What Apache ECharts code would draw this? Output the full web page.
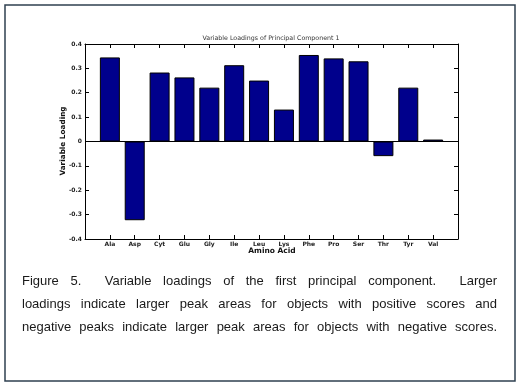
<!DOCTYPE html>
<html>
<head>
<meta charset="utf-8">
<script src="https://cdn.jsdelivr.net/npm/echarts@6/dist/echarts.min.js"></script>
<style>
html,body{margin:0;padding:0;background:#fff;}
#chart{width:520px;height:391px;}
</style>
</head>
<body>
<div id="chart"></div>
<script>
const categories = ['Ala','Asp','Cyt','Glu','Gly','Ile','Leu','Lys','Phe','Pro','Ser','Thr','Tyr','Val'];
const loadings = [0.345,-0.323,0.283,0.263,0.221,0.313,0.250,0.131,0.355,0.341,0.329,-0.060,0.221,0.008];
const yTicks = [-0.4,-0.3,-0.2,-0.1,0,0.1,0.2,0.3,0.4];
const chartTitle = 'Variable Loadings of Principal Component 1';
const xName = 'Amino Acid';
const yName = 'Variable Loading';
const captionLines = [
  'Figure 5.  Variable loadings of the first principal component.  Larger',
  'loadings indicate larger peak areas for objects with positive scores and',
  'negative peaks indicate larger peak areas for objects with negative scores.'
];

const chart = echarts.init(document.getElementById('chart'), null, {renderer:'canvas'});

const capFont = '13px "Liberation Sans", Arial, sans-serif';
const ctx = document.createElement('canvas').getContext('2d');
ctx.font = capFont;
const capLeft = 22, capRight = 497;
const capY = [281, 304, 327];
const captionGraphics = [];
captionLines.forEach((line, li) => {
  const words = line.split(' ');
  const widths = words.map(w => ctx.measureText(w).width);
  const total = widths.reduce((a,b)=>a+b,0);
  const gap = (capRight - capLeft - total) / (words.length - 1);
  let x = capLeft;
  words.forEach((w, i) => {
    if (w.length) {
      captionGraphics.push({
        type:'text', x:x, y:capY[li], silent:true,
        style:{text:w, font:capFont, fill:'#1a1a1a', textVerticalAlign:'middle', verticalAlign:'middle'}
      });
    }
    x += widths[i] + gap;
  });
});

const tickLabelStyle = {fontFamily:'DejaVu Sans, sans-serif', fontWeight:'bold', fontSize:6, color:'#222'};

const option = {
  animation:false,
  backgroundColor:'#fff',
  grid:{left:85, right:62, top:44, bottom:152, show:false},
  xAxis:[{
    type:'value', min:0, max:categories.length+1, interval:1, position:'bottom',
    axisLine:{show:true, onZero:false, lineStyle:{color:'#000', width:1}},
    axisTick:{show:true, inside:true, length:4, lineStyle:{color:'#000'}},
    splitLine:{show:false},
    axisLabel:Object.assign({margin:2, formatter:v => categories[v-1] || ''}, tickLabelStyle)
  },{
    type:'value', min:0, max:categories.length+1, interval:1, position:'top',
    axisLine:{show:true, onZero:false, lineStyle:{color:'#000', width:1}},
    axisTick:{show:true, inside:true, length:4, lineStyle:{color:'#000'}},
    splitLine:{show:false}, axisLabel:{show:false}
  }],
  yAxis:[{
    type:'value', min:yTicks[0], max:yTicks[yTicks.length-1], interval:0.1, position:'left',
    axisLine:{show:true, onZero:false, lineStyle:{color:'#000', width:1}},
    axisTick:{show:true, inside:true, length:4, lineStyle:{color:'#000'}},
    splitLine:{show:false},
    axisLabel:Object.assign({margin:3, formatter:v => { const r = Math.round(v*10)/10; return r === 0 ? '0' : r.toFixed(1); }}, tickLabelStyle)
  },{
    type:'value', min:yTicks[0], max:yTicks[yTicks.length-1], interval:0.1, position:'right',
    axisLine:{show:true, onZero:false, lineStyle:{color:'#000', width:1}},
    axisTick:{show:true, inside:true, length:4, lineStyle:{color:'#000'}},
    splitLine:{show:false}, axisLabel:{show:false}
  }],
  series:[{
    type:'bar', xAxisIndex:0, yAxisIndex:0,
    barWidth:20,
    data:loadings.map((v,i)=>[i+1, v]),
    itemStyle:{color:'#00008c', borderColor:'#000', borderWidth:1},
    markLine:{
      silent:true, symbol:['none','none'], label:{show:false},
      lineStyle:{color:'#000', type:'solid', width:1},
      data:[{yAxis:0}]
    }
  }],
  graphic:[
    {type:'rect', shape:{x:5, y:5, width:510, height:376}, style:{fill:'none', stroke:'#2f4050', lineWidth:1.5}, silent:true},
    {type:'text', x:271, y:38, silent:true,
     style:{text:chartTitle, font:'6.3px "DejaVu Sans", sans-serif', fill:'#333', textAlign:'center', textVerticalAlign:'middle', align:'center', verticalAlign:'middle'}},
    {type:'text', x:272, y:251, silent:true,
     style:{text:xName, font:'bold 7.5px "DejaVu Sans", sans-serif', fill:'#111', textAlign:'center', textVerticalAlign:'middle', align:'center', verticalAlign:'middle'}},
    {type:'text', x:63, y:141, rotation:Math.PI/2, silent:true,
     style:{text:yName, font:'bold 7.3px "DejaVu Sans", sans-serif', fill:'#111', textAlign:'center', textVerticalAlign:'middle', align:'center', verticalAlign:'middle'}}
  ].concat(captionGraphics)
};
chart.setOption(option);
</script>
</body>
</html>
